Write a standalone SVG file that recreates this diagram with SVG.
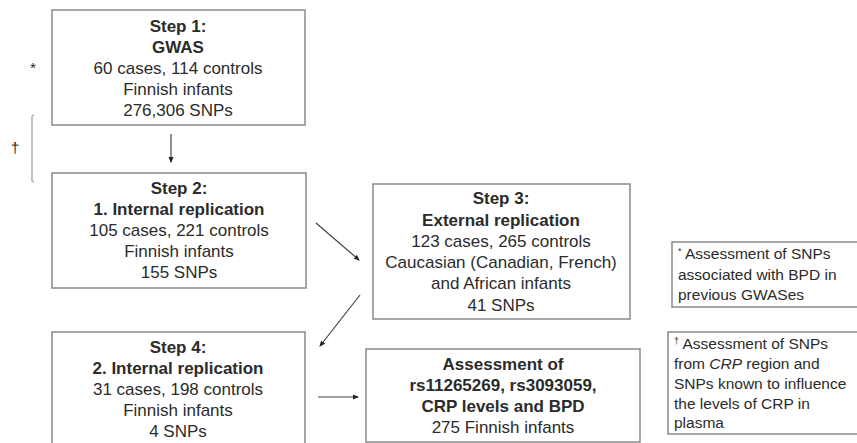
<svg xmlns="http://www.w3.org/2000/svg" width="857" height="443" viewBox="0 0 857 443">
<defs>
<style>
.box{fill:#fff;stroke:#8a8a8a;stroke-width:1.5}
.t{font-family:"Liberation Sans",Arial,sans-serif;font-size:17px;fill:#2b2b2b;text-anchor:middle}
.b{font-weight:bold}
.n{font-family:"Liberation Sans",Arial,sans-serif;font-size:15.5px;fill:#2b2b2b}
.c{stroke:#444;stroke-width:1.2;fill:none}
</style>
<marker id="ah" markerWidth="6" markerHeight="6" refX="5" refY="3" orient="auto" markerUnits="userSpaceOnUse">
<path d="M0,0.5 L6,3 L0,5.5 Z" fill="#222"/>
</marker>
</defs>
<rect width="857" height="443" fill="#fff"/>

<g id="step1">
<rect class="box" x="52" y="10" width="253" height="115"/>
<text class="t b" x="178" y="32">Step 1:</text>
<text class="t b" x="178" y="53">GWAS</text>
<text class="t" x="178" y="74">60 cases, 114 controls</text>
<text class="t" x="178" y="95">Finnish infants</text>
<text class="t" x="178" y="116">276,306 SNPs</text>
</g>

<g id="step2">
<rect class="box" x="52" y="173" width="254" height="115"/>
<text class="t b" x="179" y="194">Step 2:</text>
<text class="t b" x="179" y="215">1. Internal replication</text>
<text class="t" x="179" y="236">105 cases, 221 controls</text>
<text class="t" x="179" y="257">Finnish infants</text>
<text class="t" x="179" y="278">155 SNPs</text>
</g>

<g id="step3">
<rect class="box" x="373" y="184" width="257" height="135"/>
<text class="t b" x="501" y="204">Step 3:</text>
<text class="t b" x="501" y="226">External replication</text>
<text class="t" x="501" y="247">123 cases, 265 controls</text>
<text class="t" x="501" y="268">Caucasian (Canadian, French)</text>
<text class="t" x="501" y="289">and African infants</text>
<text class="t" x="501" y="311">41 SNPs</text>
</g>

<g id="step4">
<rect class="box" x="52" y="332" width="253" height="120"/>
<text class="t b" x="178" y="353">Step 4:</text>
<text class="t b" x="178" y="374">2. Internal replication</text>
<text class="t" x="178" y="395">31 cases, 198 controls</text>
<text class="t" x="178" y="416">Finnish infants</text>
<text class="t" x="178" y="437">4 SNPs</text>
</g>

<g id="assessment">
<rect class="box" x="366" y="349" width="274" height="93"/>
<text class="t b" x="503" y="370">Assessment of</text>
<text class="t b" x="503" y="391">rs11265269, rs3093059,</text>
<text class="t b" x="503" y="412">CRP levels and BPD</text>
<text class="t" x="503" y="433">275 Finnish infants</text>
</g>

<g id="note1">
<rect class="box" x="672" y="242" width="190" height="65"/>
<text class="n" x="678" y="259"><tspan font-size="9" dy="-5">*</tspan><tspan dy="5"> Assessment of SNPs</tspan></text>
<text class="n" x="678" y="280">associated with BPD in</text>
<text class="n" x="678" y="300">previous GWASes</text>
</g>

<g id="note2">
<rect class="box" x="668" y="332" width="194" height="102"/>
<text class="n" x="674" y="349"><tspan font-size="9" dy="-5">†</tspan><tspan dy="5"> Assessment of SNPs</tspan></text>
<text class="n" x="674" y="369">from <tspan font-style="italic">CRP</tspan> region and</text>
<text class="n" x="674" y="389">SNPs known to influence</text>
<text class="n" x="674" y="409">the levels of CRP in</text>
<text class="n" x="674" y="428">plasma</text>
</g>

<g id="side-marks">
<text class="n" x="33" y="73" font-size="10" text-anchor="middle">*</text>
<path d="M34,115 L32,116 L32,181 L34,182" stroke="#999" stroke-width="1.2" fill="none"/>
<text class="n" x="15" y="153" font-size="11" text-anchor="middle">†</text>
</g>

<g id="connectors">
<line class="c" x1="171" y1="134" x2="171" y2="162" marker-end="url(#ah)"/>
<line class="c" x1="316" y1="223" x2="359" y2="260" marker-end="url(#ah)"/>
<line class="c" x1="360" y1="295" x2="320" y2="346" marker-end="url(#ah)"/>
<line class="c" x1="318" y1="397" x2="358" y2="397" marker-end="url(#ah)"/>
</g>
</svg>
